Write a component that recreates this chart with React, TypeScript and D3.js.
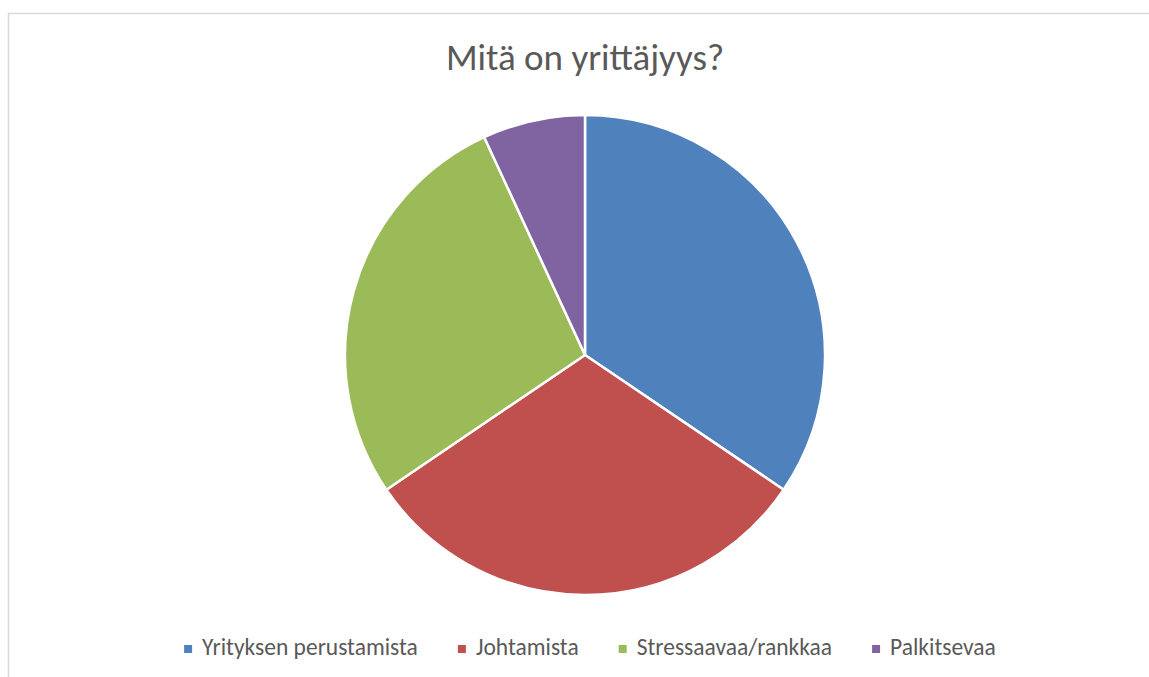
import React, { useEffect, useRef } from 'react';
import * as d3 from 'd3';

const title = 'Mitä on yrittäjyys?';
const categories = ['Yrityksen perustamista', 'Johtamista', 'Stressaavaa/rankkaa', 'Palkitsevaa'];
const values = [10, 9, 8, 2];
const colors = ['#4f81bd', '#c0504d', '#9bbb59', '#8064a2'];

const WIDTH = 1149;
const HEIGHT = 677;
const FONT = 'Carlito, Calibri, Lato, sans-serif';

export default function App() {
  const ref = useRef<SVGSVGElement>(null);

  useEffect(() => {
    const svg = d3.select(ref.current);
    svg.selectAll('*').remove();

    // chart frame
    svg.append('rect')
      .attr('x', 8.5)
      .attr('y', 13.5)
      .attr('width', 1300)
      .attr('height', 800)
      .attr('fill', '#fff')
      .attr('stroke', '#d9d9d9')
      .attr('stroke-width', 1.5);

    svg.append('text')
      .attr('x', 585)
      .attr('y', 70)
      .attr('text-anchor', 'middle')
      .attr('font-family', FONT)
      .attr('font-size', 37)
      .attr('fill', '#595959')
      .text(title);

    const cx = 585;
    const cy = 355;
    const r = 240;

    const pie = d3.pie<number>().sort(null).value(d => d);
    const arc = d3.arc<d3.PieArcDatum<number>>().innerRadius(0).outerRadius(r);

    svg.append('g')
      .attr('transform', `translate(${cx},${cy})`)
      .selectAll('path')
      .data(pie(values))
      .join('path')
      .attr('d', arc)
      .attr('fill', (_, i) => colors[i])
      .attr('stroke', '#fff')
      .attr('stroke-width', 2.5)
      .attr('stroke-linejoin', 'round');

    // legend, laid out from measured text widths
    const legend = svg.append('g');
    const items = legend.selectAll('g')
      .data(categories)
      .join('g');
    items.append('rect')
      .attr('y', -10)
      .attr('width', 8)
      .attr('height', 8)
      .attr('fill', (_, i) => colors[i]);
    const labels = items.append('text')
      .attr('x', 18)
      .attr('font-family', FONT)
      .attr('font-size', 23.5)
      .attr('fill', '#595959')
      .text(d => d);

    const widths = labels.nodes().map(n => (n as SVGTextElement).getComputedTextLength());
    const gap = 40;
    let x = 0;
    const offsets = widths.map(w => {
      const o = x;
      x += 18 + w + gap;
      return o;
    });
    const total = x - gap;
    const startX = 590 - total / 2;
    items.attr('transform', (_, i) => `translate(${startX + offsets[i]},655)`);
  }, []);

  return (
    <svg
      ref={ref}
      width={WIDTH}
      height={HEIGHT}
      style={{ position: 'absolute', left: 0, top: 0 }}
    />
  );
}
